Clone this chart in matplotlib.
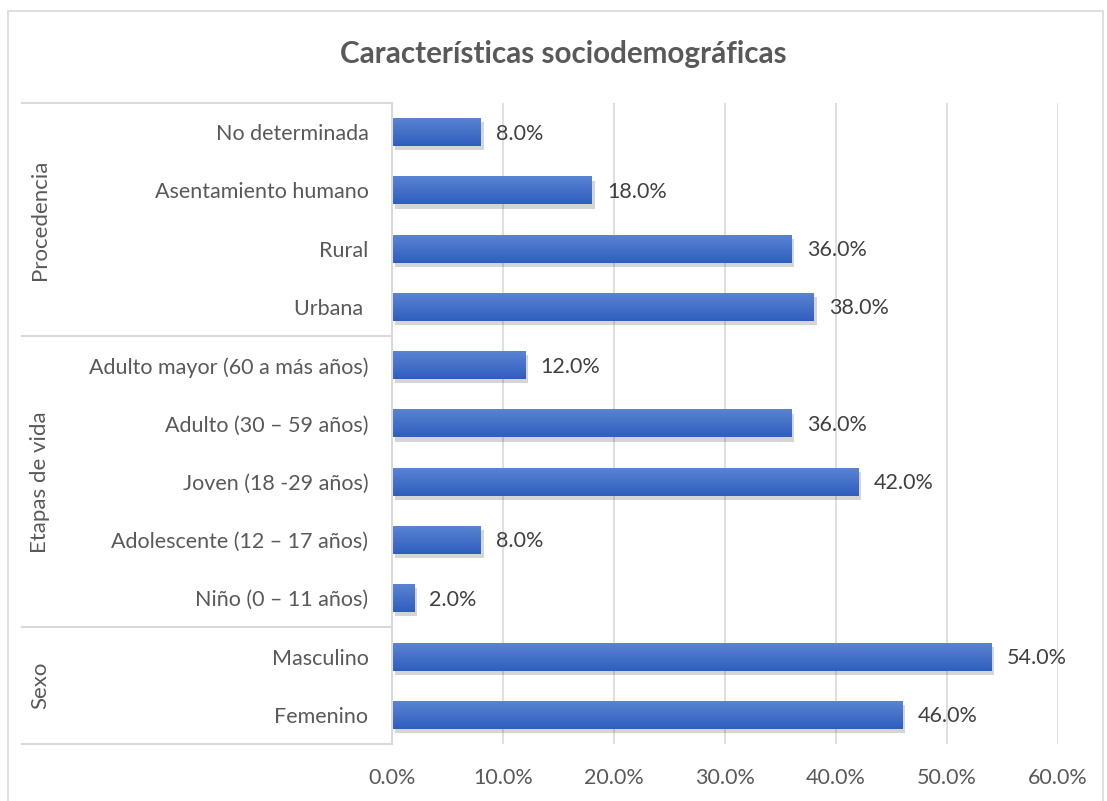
import matplotlib
matplotlib.use("Agg")
import matplotlib.pyplot as plt
import matplotlib.patheffects as pe
import matplotlib.transforms as mtransforms
from matplotlib.patches import Rectangle
import numpy as np

plt.rcParams["font.family"] = ["Lato", "DejaVu Sans"]

# categories bottom -> top
categories = ["Femenino", "Masculino",
              "Niño (0 – 11 años)", "Adolescente (12 – 17 años)", "Joven (18 -29 años)",
              "Adulto (30 – 59 años)", "Adulto mayor (60 a más años)",
              "Urbana ", "Rural", "Asentamiento humano", "No determinada"]
values = [46.0, 54.0, 2.0, 8.0, 42.0, 36.0, 12.0, 38.0, 36.0, 18.0, 8.0]
groups = ["Sexo", "Etapas de vida", "Procedencia"]
group_sizes = [2, 5, 4]
xticks = [0, 10, 20, 30, 40, 50, 60]

TEXT = "#595959"
GRID = "#D9D9D9"

fig = plt.figure(figsize=(11.07, 8.01), dpi=100)
ax = fig.add_axes([0.3541, 0.0712, 0.6016, 0.8002])

# outer chart frame
fig.patches.append(Rectangle((8 / 1107, -0.01), 1095 / 1107, 1 - 11 / 801 + 0.01,
                             transform=fig.transFigure, fill=False,
                             edgecolor=GRID, linewidth=1.2))

y = np.arange(len(categories))
bars = ax.barh(y, values, height=0.48, color="#2F5EBE", zorder=3,
               path_effects=[pe.SimplePatchShadow(offset=(2, -3), alpha=0.22,
                                                  shadow_rgbFace="#404040"),
                             pe.Normal()])

# vertical gradient on each bar
grad = np.linspace(0, 1, 64).reshape(-1, 1)
cmap = matplotlib.colors.LinearSegmentedColormap.from_list("bar", ["#2F5EBE", "#5A83D2"])
for b in bars:
    x0, y0, w, h = b.get_x(), b.get_y(), b.get_width(), b.get_height()
    ax.imshow(grad, cmap=cmap, aspect="auto", origin="lower",
              extent=[x0, x0 + w, y0, y0 + h], zorder=4)

for yi, v in zip(y, values):
    ax.annotate(f"{v:.1f}%", (v, yi), xytext=(11, -1), textcoords="offset points",
                va="center", ha="left", fontsize=15.5, color="#404040", zorder=5)

ax.set_xlim(0, 60)
ax.set_ylim(-0.5, len(categories) - 0.5)
ax.set_xticks(xticks)
ax.set_xticklabels([f"{t:.1f}%" for t in xticks])
ax.set_yticks(y)
ax.set_yticklabels(categories)
ax.tick_params(axis="both", length=0, labelsize=15.5, labelcolor=TEXT)
ax.tick_params(axis="y", pad=17)
ax.tick_params(axis="x", pad=17)
ax.grid(axis="x", color=GRID, linewidth=1.2, zorder=0)
ax.set_axisbelow(True)
for side in ["top", "right", "bottom"]:
    ax.spines[side].set_visible(False)
ax.spines["left"].set_color(GRID)
ax.spines["left"].set_linewidth(1.5)
ax.spines["left"].set_zorder(6)

# grouped category axis: separators and group names
trans = mtransforms.blended_transform_factory(ax.transAxes, ax.transData)
left_edge = (22 - 392) / 666
bounds = np.concatenate([[0], np.cumsum(group_sizes)]) - 0.5
for bnd in bounds:
    ax.plot([left_edge, 0], [bnd, bnd], transform=trans, color=GRID,
            linewidth=1.5, clip_on=False)
for g, lo, hi in zip(groups, bounds[:-1], bounds[1:]):
    ax.text((40 - 392) / 666, (lo + hi) / 2, g, transform=trans, rotation=90,
            ha="center", va="center", fontsize=16, color=TEXT)

fig.text(563 / 1107, 1 - 54 / 801, "Características sociodemográficas",
         ha="center", va="center", fontsize=21.3, fontweight="bold", color=TEXT)

fig.savefig("out.png", dpi=100)
